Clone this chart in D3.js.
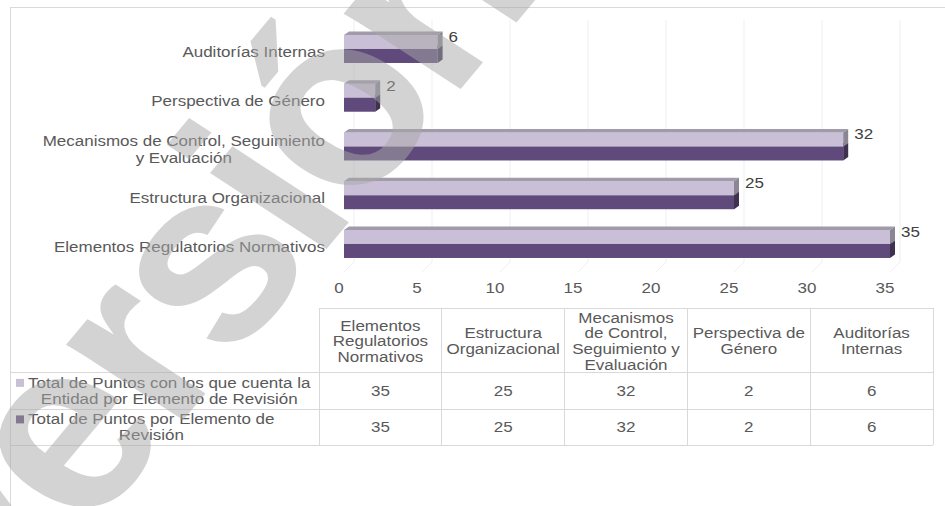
<!DOCTYPE html>
<html lang="es">
<head>
<meta charset="UTF-8">
<title>Puntos por Elemento de Revisión</title>
<script src="https://d3js.org/d3.v7.min.js"></script>
<style>
    * { margin: 0; padding: 0; box-sizing: border-box; }
    body { background: #fff; width: 945px; height: 506px; overflow: hidden; }
    svg text { font-family: "Liberation Sans", Arial, sans-serif; font-size: 15px; fill: #595959; }
    .grid line { stroke: #efefef; stroke-width: 1; }
    .tabla line { stroke: #d9d9d9; stroke-width: 1; shape-rendering: crispEdges; }
    .valor { fill: #404040; }
</style>
</head>
<body>
<svg id="chart" width="945" height="506"></svg>
<script>
    // datos
    const categories = [
        "Elementos Regulatorios Normativos",
        "Estructura Organizacional",
        "Mecanismos de Control, Seguimiento y Evaluación",
        "Perspectiva de Género",
        "Auditorías Internas"
    ];
    const axisLabelLines = [
        ["Elementos Regulatorios Normativos"],
        ["Estructura Organizacional"],
        ["Mecanismos de Control, Seguimiento", "y Evaluación"],
        ["Perspectiva de Género"],
        ["Auditorías Internas"]
    ];
    const headerLines = [
        ["Elementos", "Regulatorios", "Normativos"],
        ["Estructura", "Organizacional"],
        ["Mecanismos", "de Control,", "Seguimiento y", "Evaluación"],
        ["Perspectiva de", "Género"],
        ["Auditorías", "Internas"]
    ];
    const seriesLines = [
        ["Total de Puntos con los que cuenta la", "Entidad por Elemento de Revisión"],
        ["Total de Puntos por Elemento de", "Revisión"]
    ];
    const puntosEntidad = [35, 25, 32, 2, 6];
    const puntosElemento = [35, 25, 32, 2, 6];
    const xTicks = [0, 5, 10, 15, 20, 25, 30, 35];

    const SX = 1.133;   // el texto del original sale algo estirado a lo ancho
    const svg = d3.select("#chart");

    const colores = [
        { front: "#c9c0d8", top: "#a09aab", side: "#8b8694" },
        { front: "#5f4a7b", top: "#4c3b63", side: "#3f3150" }
    ];
    const DX = 5, DY = 3.5;

    const x = d3.scaleLinear().domain([0, 35]).range([344, 890]);
    const y = d3.scaleBand()
        .domain(categories.slice().reverse())
        .range([24.6, 268.35])
        .paddingInner(0.4256)
        .paddingOuter(0.2128);
    const ySerie = d3.scaleBand().domain([0, 1]).range([0, y.bandwidth()]);

    function addText(sel, px, py, str, anchor) {
        return sel.append("text")
            .attr("transform", `translate(${px},${py}) scale(${SX},1)`)
            .attr("text-anchor", anchor || "start")
            .text(str);
    }
    const medidor = svg.append("text").attr("visibility", "hidden");
    function ancho(str) {
        medidor.text(str);
        return medidor.node().getComputedTextLength() * SX;
    }

    // borde exterior
    svg.append("g").attr("class", "tabla").call(g => {
        g.append("line").attr("x1", 10).attr("x2", 945).attr("y1", 7).attr("y2", 7);
        g.append("line").attr("x1", 10).attr("x2", 10).attr("y1", 7).attr("y2", 506);
    });

    // pared del fondo y piso (3D)
    const grid = svg.append("g").attr("class", "grid");
    xTicks.forEach(v => {
        grid.append("line").attr("x1", x(v) + 10).attr("x2", x(v) + 10).attr("y1", 20).attr("y2", 262);
        grid.append("line").attr("x1", x(v)).attr("x2", x(v) + 10).attr("y1", 272).attr("y2", 262);
    });

    // barras 3D
    const series = [puntosEntidad, puntosElemento];
    const barras = svg.append("g");
    [1, 0].forEach(s => {
        const c = colores[s];
        const h = ySerie.bandwidth();
        categories.forEach((cat, i) => {
            const v = series[s][i];
            const x0 = x(0), x1 = x(v);
            const top = y(cat) + ySerie(s);
            const g = barras.append("g");
            g.append("rect").attr("x", x0).attr("y", top).attr("width", x1 - x0).attr("height", h).attr("fill", c.front);
            g.append("path")
                .attr("d", `M${x0},${top}L${x0 + DX},${top - DY}L${x1 + DX},${top - DY}L${x1},${top}Z`)
                .attr("fill", c.top);
            g.append("path")
                .attr("d", `M${x1},${top}L${x1 + DX},${top - DY}L${x1 + DX},${top + h - DY}L${x1},${top + h}Z`)
                .attr("fill", c.side);
        });
    });

    // etiquetas de valor
    categories.forEach((cat, i) => {
        addText(svg, x(puntosEntidad[i]) + 11, y(cat) + 7, puntosEntidad[i]).attr("class", "valor");
    });

    // etiquetas de categoría
    categories.forEach((cat, i) => {
        const lines = axisLabelLines[i];
        const c = y(cat) + y.bandwidth() / 2;
        const w = d3.max(lines, l => ancho(l));
        lines.forEach((l, k) => {
            addText(svg, 325 - w / 2, c + 8 + (k - (lines.length - 1) / 2) * 16.3, l, "middle");
        });
    });

    // eje x
    xTicks.forEach(v => addText(svg, x(v) - 5, 293, v, "middle"));

    // tabla de datos
    const colX = d3.range(6).map(k => 319 + k * 122.8);
    const filas = [308, 372, 409, 445];
    const tabla = svg.append("g").attr("class", "tabla");
    tabla.append("line").attr("x1", colX[0]).attr("x2", colX[5]).attr("y1", filas[0]).attr("y2", filas[0]);
    filas.slice(1).forEach(fy => tabla.append("line").attr("x1", 10).attr("x2", colX[5]).attr("y1", fy).attr("y2", fy));
    colX.forEach(cx => tabla.append("line").attr("x1", cx).attr("x2", cx).attr("y1", filas[0]).attr("y2", filas[3]));

    const LH = 15.8;
    headerLines.forEach((lines, i) => {
        const cx = (colX[i] + colX[i + 1]) / 2;
        const cy = (filas[0] + filas[1]) / 2 + 1;
        lines.forEach((l, k) => addText(svg, cx, cy + 5.3 + (k - (lines.length - 1) / 2) * LH, l, "middle"));
    });

    series.forEach((vals, s) => {
        const cy = (filas[s + 1] + filas[s + 2]) / 2;
        vals.forEach((v, i) => addText(svg, (colX[i] + colX[i + 1]) / 2, cy + 5.3, v, "middle"));
        const lines = seriesLines[s];
        const w = d3.max(lines, l => ancho(l));
        const firstBase = cy + 5.3 - (lines.length - 1) / 2 * LH;
        svg.append("rect").attr("x", 16).attr("y", firstBase - 9).attr("width", 8).attr("height", 8)
            .attr("fill", colores[s].front);
        lines.forEach((l, k) => addText(svg, 28 + w / 2, firstBase + k * LH, l, "middle"));
    });

    // marca de agua
    svg.append("text")
        .attr("transform", `translate(-8,648) scale(${SX},1) rotate(-53.5)`)
        .style("font-size", "242px")
        .style("font-weight", "bold")
        .style("letter-spacing", "-8px")
        .style("fill", "#a8a8a8")
        .style("opacity", 0.5)
        .text("Versión");
</script>
</body>
</html>
